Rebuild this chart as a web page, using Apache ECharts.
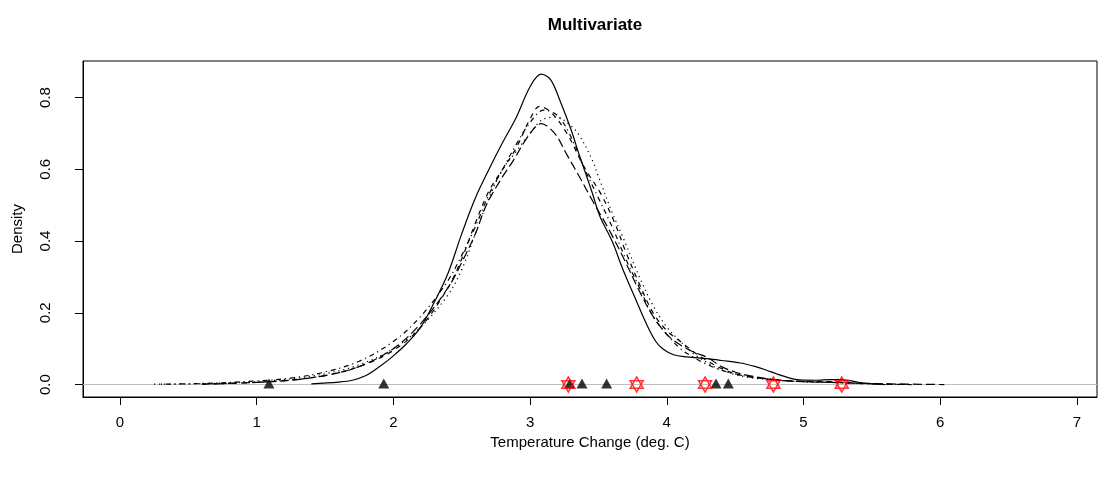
<!DOCTYPE html>
<html>
<head>
<meta charset="utf-8">
<script src="https://cdn.jsdelivr.net/npm/echarts@6/dist/echarts.min.js"></script>
<style>
html,body{margin:0;padding:0;background:#fff;}
#chart{width:1110px;height:477px;}
</style>
</head>
<body>
<div id="chart"></div>
<script>
// ---- data ----
const xTicks = [0, 1, 2, 3, 4, 5, 6, 7];
const yTicks = [0, 0.2, 0.4, 0.6, 0.8];

const densitySolid = [[1.40,0.002],[1.6,0.007],[1.7,0.012],[1.8,0.025],[1.9,0.05],[2.0,0.08],[2.1,0.115],[2.2,0.16],[2.3,0.23],[2.4,0.31],[2.5,0.42],[2.6,0.52],[2.7,0.60],[2.8,0.675],[2.9,0.745],[3.0,0.83],[3.08,0.865],[3.15,0.85],[3.22,0.79],[3.3,0.71],[3.36,0.64],[3.45,0.54],[3.51,0.47],[3.6,0.40],[3.68,0.32],[3.77,0.24],[3.85,0.17],[3.92,0.12],[3.97,0.10],[4.05,0.083],[4.15,0.077],[4.29,0.072],[4.4,0.067],[4.54,0.06],[4.65,0.05],[4.73,0.04],[4.8,0.03],[4.9,0.018],[4.97,0.013],[5.1,0.012],[5.2,0.014],[5.27,0.014],[5.35,0.01],[5.46,0.003],[5.6,0.0]];

const densityDashed = [[0.6,0.001],[1.0,0.006],[1.25,0.013],[1.5,0.025],[1.75,0.05],[2.0,0.095],[2.2,0.16],[2.4,0.27],[2.5,0.35],[2.6,0.45],[2.7,0.54],[2.8,0.60],[2.9,0.66],[3.0,0.74],[3.07,0.775],[3.15,0.76],[3.27,0.70],[3.39,0.61],[3.52,0.53],[3.62,0.45],[3.7,0.37],[3.8,0.28],[3.9,0.20],[4.0,0.15],[4.1,0.12],[4.2,0.09],[4.3,0.065],[4.4,0.045],[4.5,0.03],[4.6,0.022],[4.8,0.013],[5.0,0.009],[5.2,0.008],[5.4,0.004],[5.6,0.001],[5.8,0.0]];

const densityDotted = [[0.25,0.001],[0.5,0.002],[0.75,0.004],[1.0,0.008],[1.25,0.016],[1.5,0.03],[1.75,0.055],[2.0,0.10],[2.2,0.16],[2.4,0.25],[2.5,0.32],[2.6,0.42],[2.7,0.52],[2.8,0.60],[2.9,0.65],[3.0,0.70],[3.1,0.74],[3.2,0.745],[3.27,0.73],[3.35,0.70],[3.45,0.63],[3.5,0.58],[3.6,0.48],[3.68,0.41],[3.8,0.30],[3.9,0.22],[4.0,0.16],[4.1,0.12],[4.2,0.085],[4.3,0.06],[4.4,0.04],[4.5,0.028],[4.6,0.02],[4.8,0.012],[5.0,0.008],[5.2,0.006],[5.4,0.003],[5.7,0.0]];

const densityDotDash = [[0.3,0.001],[0.6,0.003],[1.0,0.01],[1.25,0.018],[1.5,0.035],[1.75,0.065],[2.0,0.12],[2.2,0.19],[2.4,0.29],[2.5,0.36],[2.6,0.44],[2.7,0.53],[2.8,0.60],[2.9,0.67],[3.0,0.73],[3.1,0.765],[3.2,0.75],[3.3,0.69],[3.4,0.60],[3.5,0.52],[3.6,0.44],[3.7,0.35],[3.8,0.27],[3.9,0.19],[4.0,0.14],[4.1,0.10],[4.2,0.075],[4.3,0.055],[4.4,0.04],[4.5,0.03],[4.6,0.022],[4.8,0.013],[5.0,0.008],[5.2,0.006],[5.5,0.002],[5.8,0.0]];

const densityLongDash = [[0.6,0.001],[1.0,0.006],[1.25,0.012],[1.5,0.025],[1.75,0.05],[2.0,0.10],[2.2,0.17],[2.4,0.27],[2.5,0.34],[2.6,0.42],[2.68,0.50],[2.8,0.58],[2.87,0.62],[3.0,0.70],[3.08,0.727],[3.18,0.70],[3.27,0.64],[3.36,0.58],[3.46,0.51],[3.58,0.43],[3.7,0.34],[3.8,0.26],[3.9,0.19],[4.0,0.14],[4.1,0.11],[4.2,0.09],[4.3,0.075],[4.4,0.05],[4.5,0.035],[4.6,0.025],[4.8,0.013],[5.0,0.008],[5.2,0.006],[5.4,0.004],[5.6,0.002],[5.8,0.001],[6.03,0.0]];

const triangleX = [1.09, 1.93, 3.29, 3.38, 3.56, 4.36, 4.45];
const starX = [3.28, 3.78, 4.28, 4.78, 5.28];

// ---- chart ----
const FONT = 'Liberation Sans, Arial, Helvetica, sans-serif';
const chart = echarts.init(document.getElementById('chart'), null, {renderer: 'canvas'});

function lineSeries(name, data, dash) {
  return {
    name: name, type: 'line', data: data, symbol: 'none', smooth: 0.35,
    lineStyle: {color: '#000', width: 1.2, type: dash},
    z: 3, silent: true
  };
}

const starPath = 'path://M0,-1 L0.866,0.5 L-0.866,0.5 Z M0,1 L0.866,-0.5 L-0.866,-0.5 Z';

const option = {
  animation: false,
  backgroundColor: '#fff',
  title: {
    text: 'Multivariate', left: 590, top: 12, textAlign: 'center',
    textStyle: {fontFamily: FONT, fontSize: 17, fontWeight: 'bold', color: '#000'}
  },
  grid: {left: 83, right: 13, top: 61, bottom: 80, show: true, borderColor: '#000', borderWidth: 1, containLabel: false},
  xAxis: {
    type: 'value', min: -0.27, max: 7.147,
    name: 'Temperature Change (deg. C)', nameLocation: 'middle', nameGap: 35,
    nameTextStyle: {fontFamily: FONT, fontSize: 15, color: '#000'},
    axisLine: {show: true, onZero: false, lineStyle: {color: '#000', width: 1}},
    axisTick: {show: true, length: 8, customValues: xTicks, lineStyle: {color: '#000'}},
    axisLabel: {customValues: xTicks, margin: 18, fontFamily: FONT, fontSize: 15, color: '#000', formatter: v => String(v)},
    splitLine: {show: false}
  },
  yAxis: {
    type: 'value', min: -0.0347, max: 0.9017,
    name: 'Density', nameLocation: 'middle', nameGap: 58, nameRotate: 90,
    nameTextStyle: {fontFamily: FONT, fontSize: 15, color: '#000'},
    axisLine: {show: true, onZero: false, lineStyle: {color: '#000', width: 1}},
    axisTick: {show: true, length: 8, customValues: yTicks, lineStyle: {color: '#000'}},
    axisLabel: {customValues: yTicks, rotate: 90, margin: 37, fontFamily: FONT, fontSize: 15, color: '#000', formatter: v => v.toFixed(1), verticalAlign: 'middle', align: 'center'},
    splitLine: {show: false}
  },
  series: [
    Object.assign(lineSeries('solid', densitySolid, 'solid'), {
      markLine: {
        silent: true, symbol: ['none', 'none'], label: {show: false},
        lineStyle: {color: '#bebebe', type: 'solid', width: 1},
        data: [{yAxis: 0}], z: 1
      }
    }),
    lineSeries('dashed', densityDashed, [5, 5]),
    lineSeries('dotted', densityDotted, [1.2, 3.8]),
    lineSeries('dotdash', densityDotDash, [1.2, 3.8, 5, 3.8]),
    lineSeries('longdash', densityLongDash, [9, 4]),
    {
      name: 'triangles', type: 'scatter', data: triangleX.map(x => [x, 0]),
      symbol: 'triangle', symbolSize: [11, 10], symbolOffset: [0, -1],
      itemStyle: {color: '#000'}, z: 4, silent: true
    },
    {
      name: 'stars', type: 'scatter', data: starX.map(x => [x, 0]),
      symbol: starPath, symbolSize: [13, 15],
      itemStyle: {color: 'rgba(0,0,0,0)', borderColor: '#ff0000', borderWidth: 1.5}, z: 5, silent: true
    }
  ]
};
chart.setOption(option);
</script>
</body>
</html>
